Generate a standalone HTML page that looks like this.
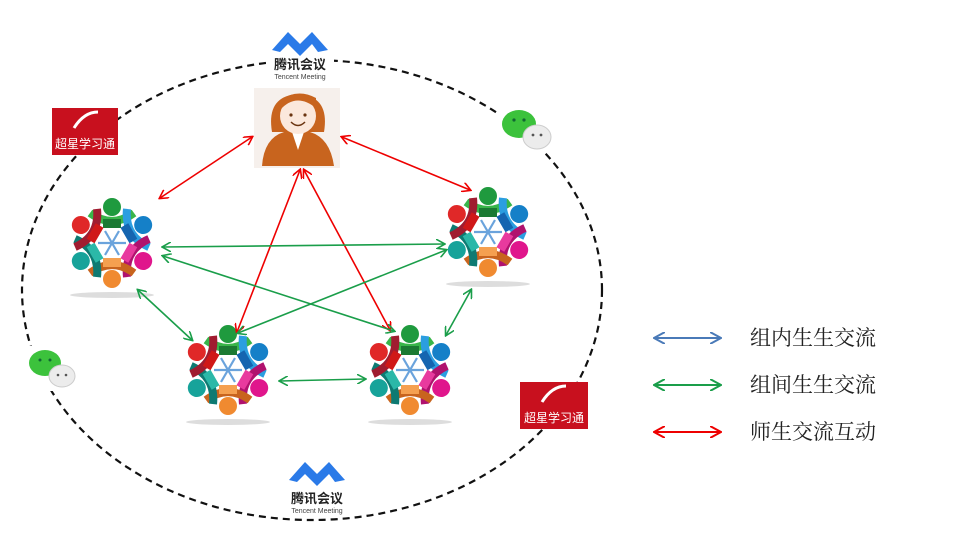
<!DOCTYPE html>
<html><head><meta charset="utf-8"><style>
body{margin:0;background:#fff;width:958px;height:546px;overflow:hidden;position:relative;font-family:"Liberation Sans","Noto Sans CJK SC",sans-serif}
.leg{position:absolute;left:750px;font-size:21px;color:#222;font-family:"Noto Serif CJK SC","Noto Sans CJK SC",serif}
</style></head><body>
<svg width="958" height="546" style="position:absolute;left:0;top:0">
<defs>
<marker id="ar" markerWidth="10" markerHeight="10" refX="8" refY="5" orient="auto-start-reverse" markerUnits="userSpaceOnUse"><path d="M0,0 L9,5 L0,10" fill="none" stroke="#e00" stroke-width="1.6"/></marker>
<marker id="ag" markerWidth="10" markerHeight="10" refX="8" refY="5" orient="auto-start-reverse" markerUnits="userSpaceOnUse"><path d="M0,0 L9,5 L0,10" fill="none" stroke="#1a9e4a" stroke-width="1.6"/></marker>
<marker id="ab" markerWidth="12" markerHeight="12" refX="10" refY="6" orient="auto-start-reverse" markerUnits="userSpaceOnUse"><path d="M0,0 L11,6 L0,12" fill="none" stroke="#4a7ab8" stroke-width="2"/></marker>
<marker id="ag2" markerWidth="12" markerHeight="12" refX="10" refY="6" orient="auto-start-reverse" markerUnits="userSpaceOnUse"><path d="M0,0 L11,6 L0,12" fill="none" stroke="#1a9e4a" stroke-width="2"/></marker>
<marker id="ar2" markerWidth="12" markerHeight="12" refX="10" refY="6" orient="auto-start-reverse" markerUnits="userSpaceOnUse"><path d="M0,0 L11,6 L0,12" fill="none" stroke="#e00" stroke-width="2"/></marker>
<g id="grp">
 <ellipse cx="0" cy="52" rx="42" ry="3" fill="#ddd"/>
 <g transform="rotate(0)"><circle cx="0" cy="-36" r="9" fill="#1f9a3e"/><path d="M-22,-30 Q0,-14 22,-30" stroke="#39b54a" stroke-width="8" fill="none"/><rect x="-9" y="-24" width="18" height="9" fill="#1b7a33"/></g>
 <g transform="rotate(60)"><circle cx="0" cy="-36" r="9" fill="#1580c8"/><path d="M-22,-30 Q0,-14 22,-30" stroke="#2b9ee0" stroke-width="8" fill="none"/><rect x="-9" y="-24" width="18" height="9" fill="#1565b0"/></g>
 <g transform="rotate(120)"><circle cx="0" cy="-36" r="9" fill="#e0168c"/><path d="M-22,-30 Q0,-14 22,-30" stroke="#b0126e" stroke-width="8" fill="none"/><rect x="-9" y="-24" width="18" height="9" fill="#e83a9e"/></g>
 <g transform="rotate(180)"><circle cx="0" cy="-36" r="9" fill="#f08a30"/><path d="M-22,-30 Q0,-14 22,-30" stroke="#c8641e" stroke-width="8" fill="none"/><rect x="-9" y="-24" width="18" height="9" fill="#f5a050"/></g>
 <g transform="rotate(240)"><circle cx="0" cy="-36" r="9" fill="#17a39a"/><path d="M-22,-30 Q0,-14 22,-30" stroke="#0e7a72" stroke-width="8" fill="none"/><rect x="-9" y="-24" width="18" height="9" fill="#2bb8a8"/></g>
 <g transform="rotate(300)"><circle cx="0" cy="-36" r="9" fill="#e02828"/><path d="M-22,-30 Q0,-14 22,-30" stroke="#a01c30" stroke-width="8" fill="none"/><rect x="-9" y="-24" width="18" height="9" fill="#d01818"/></g>
 <g stroke="#6aa3dc" stroke-width="2.2"><line x1="-14" y1="0" x2="14" y2="0"/><line x1="-7" y1="-12" x2="7" y2="12"/><line x1="7" y1="-12" x2="-7" y2="12"/></g>
</g>
</defs>
<ellipse cx="312" cy="290" rx="290" ry="230" fill="none" stroke="#111" stroke-width="2.2" stroke-dasharray="7,5"/>
<!-- teacher -->
<rect x="254" y="88" width="86" height="80" fill="#f6f0ec"/>
<path d="M262,166 Q264,138 284,132 L310,132 Q330,138 334,166 Z" fill="#c8641e"/>
<path d="M292,132 L298,150 L304,132" fill="#fff"/>
<path d="M272,132 Q266,96 298,94 Q330,96 324,132 Z" fill="#c8641e"/>
<ellipse cx="298" cy="116" rx="18" ry="18" fill="#fbe8dc"/>
<path d="M280,110 Q296,92 316,108 L316,98 Q298,88 280,100 Z" fill="#c8641e"/>
<circle cx="291" cy="115" r="1.6" fill="#6b3410"/><circle cx="305" cy="115" r="1.6" fill="#6b3410"/>
<path d="M291,122 Q298,129 305,122" stroke="#6b3410" stroke-width="1.5" fill="none"/>
<!-- groups -->
<use href="#grp" x="112" y="243"/>
<use href="#grp" x="488" y="232"/>
<use href="#grp" x="228" y="370"/>
<use href="#grp" x="410" y="370"/>
<!-- red -->
<g stroke="#e00" stroke-width="1.6" marker-start="url(#ar)" marker-end="url(#ar)">
<line x1="252" y1="137" x2="160" y2="198"/>
<line x1="342" y1="137" x2="470" y2="190"/>
<line x1="300" y1="170" x2="237" y2="332"/>
<line x1="304" y1="170" x2="390" y2="330"/>
</g>
<g stroke="#1a9e4a" stroke-width="1.6" marker-start="url(#ag)" marker-end="url(#ag)">
<line x1="163" y1="247" x2="444" y2="244"/>
<line x1="163" y1="256" x2="394" y2="331"/>
<line x1="446" y1="250" x2="238" y2="333"/>
<line x1="138" y1="290" x2="192" y2="340"/>
<line x1="280" y1="381" x2="365" y2="379"/>
<line x1="471" y1="290" x2="446" y2="335"/>
</g>
<!-- legend -->
<line x1="655" y1="338" x2="720" y2="338" stroke="#4a7ab8" stroke-width="2" marker-start="url(#ab)" marker-end="url(#ab)"/>
<line x1="655" y1="385" x2="720" y2="385" stroke="#1a9e4a" stroke-width="2" marker-start="url(#ag2)" marker-end="url(#ag2)"/>
<line x1="655" y1="432" x2="720" y2="432" stroke="#e00" stroke-width="2" marker-start="url(#ar2)" marker-end="url(#ar2)"/>
<!-- tencent top -->
<rect x="266" y="26" width="68" height="54" fill="#fff"/>
<path d="M272,50 L288,32 L300,44 L312,32 L328,50 L318,52 L312,44 L300,56 L288,44 L280,52 Z" fill="#2a7ae8"/>
<text x="300" y="69" text-anchor="middle" font-size="13" font-weight="bold" fill="#222" font-family="Noto Sans CJK SC,sans-serif">腾讯会议</text>
<text x="300" y="79" text-anchor="middle" font-size="7" fill="#444">Tencent Meeting</text>
<!-- tencent bottom -->
<rect x="284" y="456" width="68" height="60" fill="#fff"/>
<path d="M289,480 L305,462 L317,474 L329,462 L345,480 L335,482 L329,474 L317,486 L305,474 L297,482 Z" fill="#2a7ae8"/>
<text x="317" y="503" text-anchor="middle" font-size="13" font-weight="bold" fill="#222" font-family="Noto Sans CJK SC,sans-serif">腾讯会议</text>
<text x="317" y="513" text-anchor="middle" font-size="7" fill="#444">Tencent Meeting</text>
<!-- chaoxing -->
<rect x="52" y="108" width="66" height="47" fill="#c8101e"/>
<path d="M74,128 Q84,112 98,112" stroke="#fff" stroke-width="3" fill="none"/>
<text x="85" y="148" text-anchor="middle" font-size="12" fill="#fff" font-family="Noto Sans CJK SC,sans-serif">超星学习通</text>
<rect x="520" y="382" width="68" height="47" fill="#c8101e"/>
<path d="M542,402 Q552,386 566,386" stroke="#fff" stroke-width="3" fill="none"/>
<text x="554" y="422" text-anchor="middle" font-size="12" fill="#fff" font-family="Noto Sans CJK SC,sans-serif">超星学习通</text>
<!-- wechat -->
<rect x="498" y="108" width="56" height="45" fill="#fff"/>
<ellipse cx="519" cy="124" rx="17" ry="14" fill="#3cc23c"/>
<ellipse cx="537" cy="137" rx="14" ry="12" fill="#ececec" stroke="#ccc"/>
<circle cx="514" cy="120" r="1.6" fill="#163"/><circle cx="524" cy="120" r="1.6" fill="#163"/>
<circle cx="533" cy="135" r="1.4" fill="#555"/><circle cx="541" cy="135" r="1.4" fill="#555"/>
<rect x="25" y="346" width="54" height="45" fill="#fff"/>
<ellipse cx="45" cy="363" rx="16" ry="13" fill="#3cc23c"/>
<ellipse cx="62" cy="376" rx="13" ry="11" fill="#ececec" stroke="#ccc"/>
<circle cx="40" cy="360" r="1.5" fill="#163"/><circle cx="50" cy="360" r="1.5" fill="#163"/>
<circle cx="58" cy="375" r="1.3" fill="#555"/><circle cx="66" cy="375" r="1.3" fill="#555"/>
</svg>
<div class="leg" style="top:322px">组内生生交流</div>
<div class="leg" style="top:369px">组间生生交流</div>
<div class="leg" style="top:416px">师生交流互动</div>
</body></html>
